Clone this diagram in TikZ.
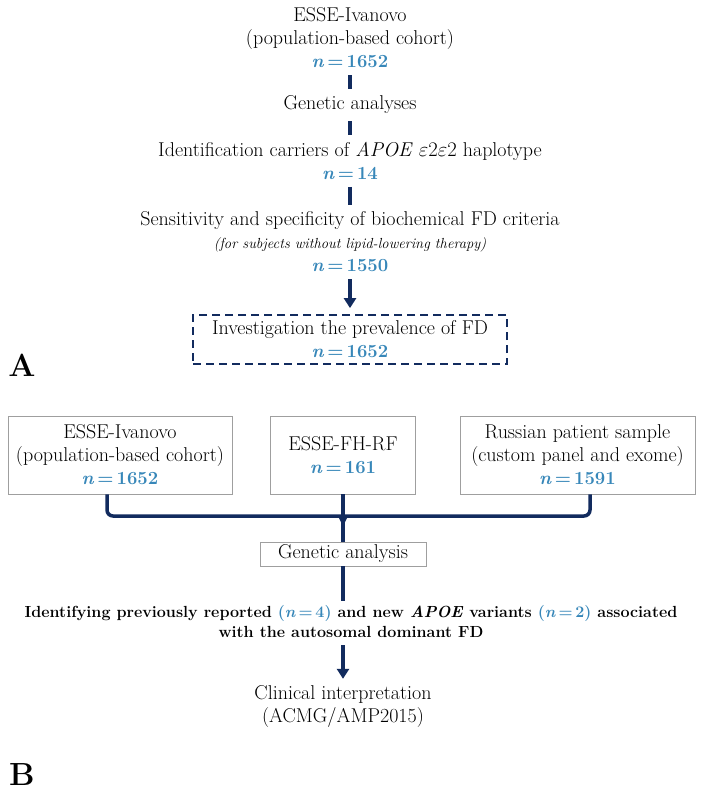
\documentclass[tikz,border=0pt]{standalone}
\usetikzlibrary{arrows.meta,positioning}
\definecolor{navy}{RGB}{18,43,94}
\definecolor{nblue}{RGB}{55,135,185}
\newcommand{\nval}[1]{{\fontsize{18.5}{23}\selectfont\textcolor{nblue}{\textbf{\textit{n}\,=\,#1}}}}
\tikzset{
  txt/.style={align=center,font=\fontsize{20}{23}\selectfont,inner sep=1pt},
  boxB/.style={txt,draw=gray!75,line width=0.8pt},
  link/.style={draw=navy,line width=3.5pt,shorten <=6pt,shorten >=6pt},
  linkarr/.style={link,-{Triangle[length=10pt,width=12pt]}},
  panel/.style={font=\fontsize{32}{36}\selectfont\bfseries}
}
\begin{document}
\begin{tikzpicture}[x=1pt,y=-1pt]
\useasboundingbox[fill=white] (0,0) rectangle (703,796);

% panel A
\node[txt] (ivA) at (350,38) {ESSE-Ivanovo\\(population-based cohort)\\\nval{1652}};
\node[txt] (genA) at (350,105) {Genetic analyses};
\node[txt] (carr) at (350,161) {Identification carriers of \textit{APOE} $\varepsilon2\varepsilon2$ haplotype\\\nval{14}};
\node[txt] (sens) at (350,242) {Sensitivity and specificity of biochemical FD criteria\\
  {\fontsize{14.6}{20}\selectfont\itshape (for subjects without lipid-lowering therapy)}\\\nval{1550}};
\node[txt,draw=navy,line width=1.8pt,dash pattern=on 8pt off 5pt,
  minimum width=314pt,minimum height=49pt] (prev) at (350,339.5)
  {Investigation the prevalence of FD\\\nval{1652}};
\node[panel] (labA) at (22,365) {A};

\draw[link] (ivA) -- (genA);
\draw[link] (genA) -- (carr);
\draw[link] (carr) -- (sens);
\draw[linkarr] (sens) -- (prev);

% panel B
\node[boxB,minimum width=224pt,minimum height=78pt] (ivB) at (120,455)
  {ESSE-Ivanovo\\(population-based cohort)\\\nval{1652}};
\node[boxB,minimum width=145pt,minimum height=78pt] (fhrf) at (343,455)
  {ESSE-FH-RF\\\nval{161}};
\node[boxB,minimum width=235pt,minimum height=78pt] (rus) at (577.5,455)
  {Russian patient sample\\(custom panel and exome)\\\nval{1591}};
\node[boxB,minimum width=166pt,minimum height=24pt] (genB) at (343,554) {Genetic analysis};
\node[txt,font=\fontsize{16.1}{20}\selectfont\bfseries] (ident) at (351,622)
  {Identifying previously reported \textcolor{nblue}{(\textit{n}\,=\,4)} and new \textit{APOE} variants \textcolor{nblue}{(\textit{n}\,=\,2)} associated\\
  with the autosomal dominant FD};
\node[txt] (clin) at (343,707) {Clinical interpretation\\(ACMG/AMP2015)};
\node[panel] (labB) at (22,775) {B};

\coordinate (bl) at (107,516);
\coordinate (br) at (590,516);
\coordinate (bm) at (343,516);
\draw[link,shorten <=0pt,shorten >=0pt,rounded corners=6pt]
  (ivB.south -| bl) -- (bl) -- (br) -- (rus.south -| br);
\draw[link,shorten <=0pt,shorten >=0pt] (fhrf) -- (genB);
\fill[navy] ([xshift=-5pt]bm) -- ([xshift=5pt]bm) -- ([yshift=-10pt]bm) -- cycle;
\draw[link,shorten <=0pt,shorten >=4pt] (genB) -- (genB |- ident.north);
\draw[linkarr] (ident.south -| clin) -- (clin);
\end{tikzpicture}
\end{document}
